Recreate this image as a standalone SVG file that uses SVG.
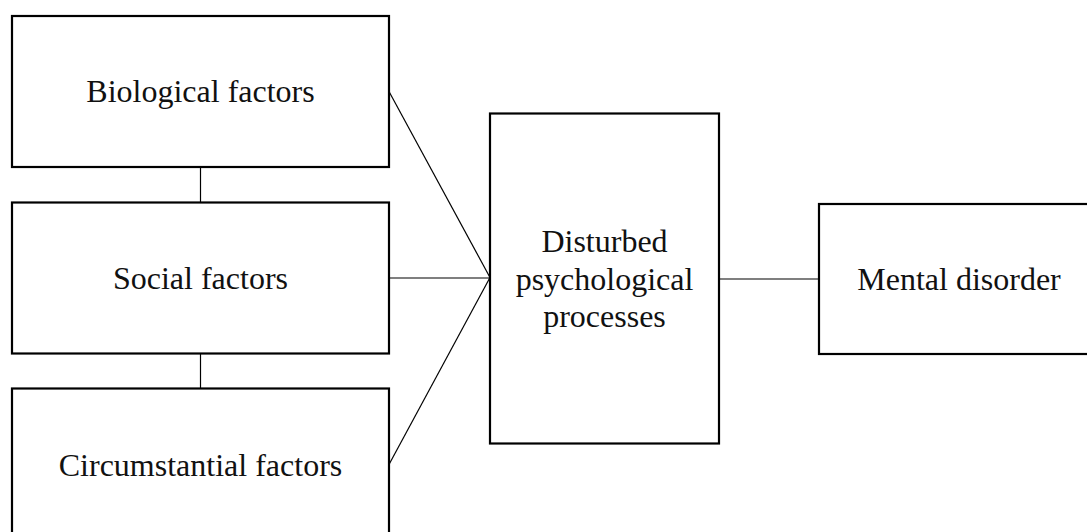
<svg xmlns="http://www.w3.org/2000/svg" width="1087" height="532" viewBox="0 0 1087 532">
<style>
.box{fill:#fff;stroke:#000;stroke-width:2.2}
.lbl{font-family:"Liberation Serif","Times New Roman",serif;font-size:32px;fill:#111;text-anchor:middle}
.con{stroke:#000;stroke-width:1.2;fill:none}
</style>
<rect width="1087" height="532" fill="#fff"/>
<g id="connectors">
<line class="con" x1="200.5" y1="167" x2="200.5" y2="202.5"/>
<line class="con" x1="200.5" y1="353.5" x2="200.5" y2="388.5"/>
<line class="con" x1="389" y1="91.5" x2="490" y2="277.5"/>
<line class="con" x1="389" y1="278" x2="490" y2="278"/>
<line class="con" x1="389" y1="464.5" x2="490" y2="277.5"/>
<line class="con" x1="719" y1="279" x2="819" y2="279"/>
</g>
<g id="biological">
<rect class="box" x="12" y="16" width="377" height="151"/>
<text class="lbl" x="200.5" y="101.7">Biological factors</text>
</g>
<g id="social">
<rect class="box" x="12" y="202.5" width="377" height="151"/>
<text class="lbl" x="200.5" y="289">Social factors</text>
</g>
<g id="circumstantial">
<rect class="box" x="12" y="388.5" width="377" height="152"/>
<text class="lbl" x="200.5" y="475.7">Circumstantial factors</text>
</g>
<g id="disturbed">
<rect class="box" x="490" y="113.5" width="229" height="330"/>
<text class="lbl" x="604.5" y="252.3">Disturbed</text>
<text class="lbl" x="604.5" y="289.5">psychological</text>
<text class="lbl" x="604.5" y="326.7">processes</text>
</g>
<g id="mental">
<rect class="box" x="819" y="204" width="281" height="150"/>
<text class="lbl" x="959" y="290">Mental disorder</text>
</g>
</svg>
